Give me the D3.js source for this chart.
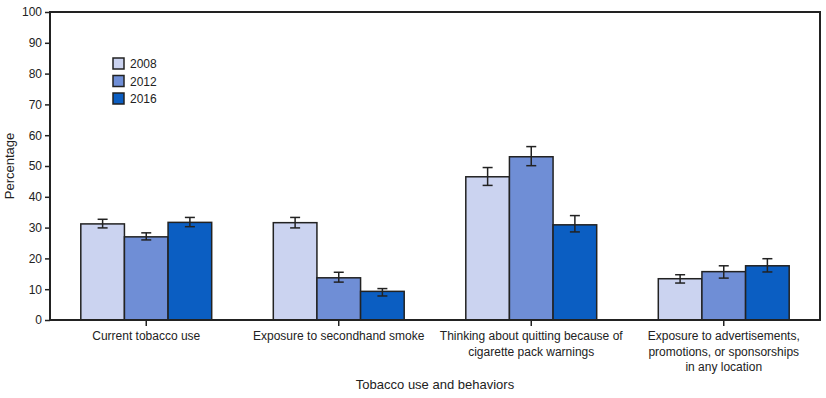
<!DOCTYPE html>
<html>
<head>
<meta charset="utf-8">
<script src="https://cdn.jsdelivr.net/npm/d3@7"></script>
<style>
  body { margin: 0; background: #fff; }
  text { font-family: "Liberation Sans Narrow", "Arial Narrow", "Liberation Sans", sans-serif; fill: #222; }
</style>
</head>
<body>
<svg id="chart"></svg>
<script>
const categories = [
  ['Current tobacco use'],
  ['Exposure to secondhand smoke'],
  ['Thinking about quitting because of', 'cigarette pack warnings'],
  ['Exposure to advertisements,', 'promotions, or sponsorships', 'in any location']
];
const years = ['2008', '2012', '2016'];
const values2008 = [31.2, 31.6, 46.5, 13.4];
const values2012 = [27.0, 13.7, 53.0, 15.7];
const values2016 = [31.7, 9.3, 30.9, 17.6];
const low2008 = [29.9, 29.9, 43.7, 12.0];
const high2008 = [32.7, 33.3, 49.5, 14.7];
const low2012 = [26.0, 12.3, 50.1, 13.6];
const high2012 = [28.3, 15.5, 56.3, 17.6];
const low2016 = [30.3, 7.8, 28.6, 15.6];
const high2016 = [33.3, 10.2, 33.9, 19.9];
const yTicks = [0, 10, 20, 30, 40, 50, 60, 70, 80, 90, 100];
const colors = ['#cbd3f0', '#6f8ed6', '#0b5ec2'];

const width = 826, height = 398;
const margin = { top: 12, right: 6, bottom: 78, left: 50 };

const series = [
  { year: years[0], vals: values2008, lo: low2008, hi: high2008 },
  { year: years[1], vals: values2012, lo: low2012, hi: high2012 },
  { year: years[2], vals: values2016, lo: low2016, hi: high2016 }
];

const svg = d3.select('#chart')
  .attr('width', width)
  .attr('height', height);

const x = d3.scaleBand()
  .domain(d3.range(categories.length))
  .range([margin.left, width - margin.right])
  .paddingInner(0.32)
  .paddingOuter(0.16);

const xSub = d3.scaleBand()
  .domain(years)
  .range([0, x.bandwidth()]);

const y = d3.scaleLinear()
  .domain([0, 100])
  .range([height - margin.bottom, margin.top]);

// bars
const groups = svg.append('g')
  .selectAll('g')
  .data(series)
  .enter()
  .append('g')
  .attr('fill', (d, i) => colors[i]);

groups.selectAll('rect')
  .data(d => d.vals.map((v, i) => ({ year: d.year, v, i })))
  .enter()
  .append('rect')
  .attr('x', d => x(d.i) + xSub(d.year))
  .attr('y', d => y(d.v))
  .attr('width', xSub.bandwidth())
  .attr('height', d => y(0) - y(d.v))
  .attr('stroke', '#222')
  .attr('stroke-width', 1.5);

// error bars
const errs = svg.append('g')
  .attr('stroke', '#222')
  .attr('stroke-width', 1.5);

series.forEach(s => {
  s.vals.forEach((v, i) => {
    const cx = x(i) + xSub(s.year) + xSub.bandwidth() / 2;
    errs.append('line').attr('x1', cx).attr('x2', cx).attr('y1', y(s.lo[i])).attr('y2', y(s.hi[i]));
    errs.append('line').attr('x1', cx - 5).attr('x2', cx + 5).attr('y1', y(s.lo[i])).attr('y2', y(s.lo[i]));
    errs.append('line').attr('x1', cx - 5).attr('x2', cx + 5).attr('y1', y(s.hi[i])).attr('y2', y(s.hi[i]));
  });
});

// frame
svg.append('rect')
  .attr('x', margin.left)
  .attr('y', margin.top)
  .attr('width', width - margin.left - margin.right)
  .attr('height', height - margin.top - margin.bottom)
  .attr('fill', 'none')
  .attr('stroke', '#222')
  .attr('stroke-width', 2);

// y axis
const yAxis = svg.append('g')
  .attr('transform', `translate(${margin.left},0)`)
  .call(d3.axisLeft(y).tickValues(yTicks).tickSize(5).tickPadding(3));
yAxis.select('.domain').remove();
yAxis.selectAll('line').attr('stroke', '#222').attr('stroke-width', 1.5);
yAxis.selectAll('text').style('font-size', '12px').attr('fill', '#222');

// x axis
const xAxis = svg.append('g')
  .attr('transform', `translate(0,${height - margin.bottom})`)
  .call(d3.axisBottom(x).tickSize(6).tickFormat(''));
xAxis.select('.domain').remove();
xAxis.selectAll('line').attr('stroke', '#222').attr('stroke-width', 1.5);

categories.forEach((lines, i) => {
  const t = svg.append('text')
    .attr('text-anchor', 'middle')
    .attr('x', x(i) + x.bandwidth() / 2)
    .attr('y', 340)
    .style('font-size', '12px');
  lines.forEach((l, j) => {
    t.append('tspan')
      .attr('x', x(i) + x.bandwidth() / 2)
      .attr('dy', j === 0 ? 0 : 15.5)
      .text(l);
  });
});

svg.append('text')
  .attr('x', (margin.left + width - margin.right) / 2)
  .attr('y', 389)
  .attr('text-anchor', 'middle')
  .style('font-size', '13px')
  .text('Tobacco use and behaviors');

svg.append('text')
  .attr('transform', `translate(14,${(margin.top + height - margin.bottom) / 2}) rotate(-90)`)
  .attr('text-anchor', 'middle')
  .style('font-size', '13px')
  .text('Percentage');

// legend
const legend = svg.append('g')
  .attr('transform', 'translate(113,58)');

legend.selectAll('g')
  .data(years)
  .enter()
  .append('g')
  .attr('transform', (_, i) => `translate(0, ${i * 17.5})`)
  .each(function (d, i) {
    const g = d3.select(this);
    g.append('rect')
      .attr('width', 11)
      .attr('height', 11)
      .attr('fill', colors[i])
      .attr('stroke', '#222')
      .attr('stroke-width', 1.5);
    g.append('text')
      .attr('x', 17)
      .attr('y', 10)
      .style('font-size', '12px')
      .text(d);
  });
</script>
</body>
</html>
